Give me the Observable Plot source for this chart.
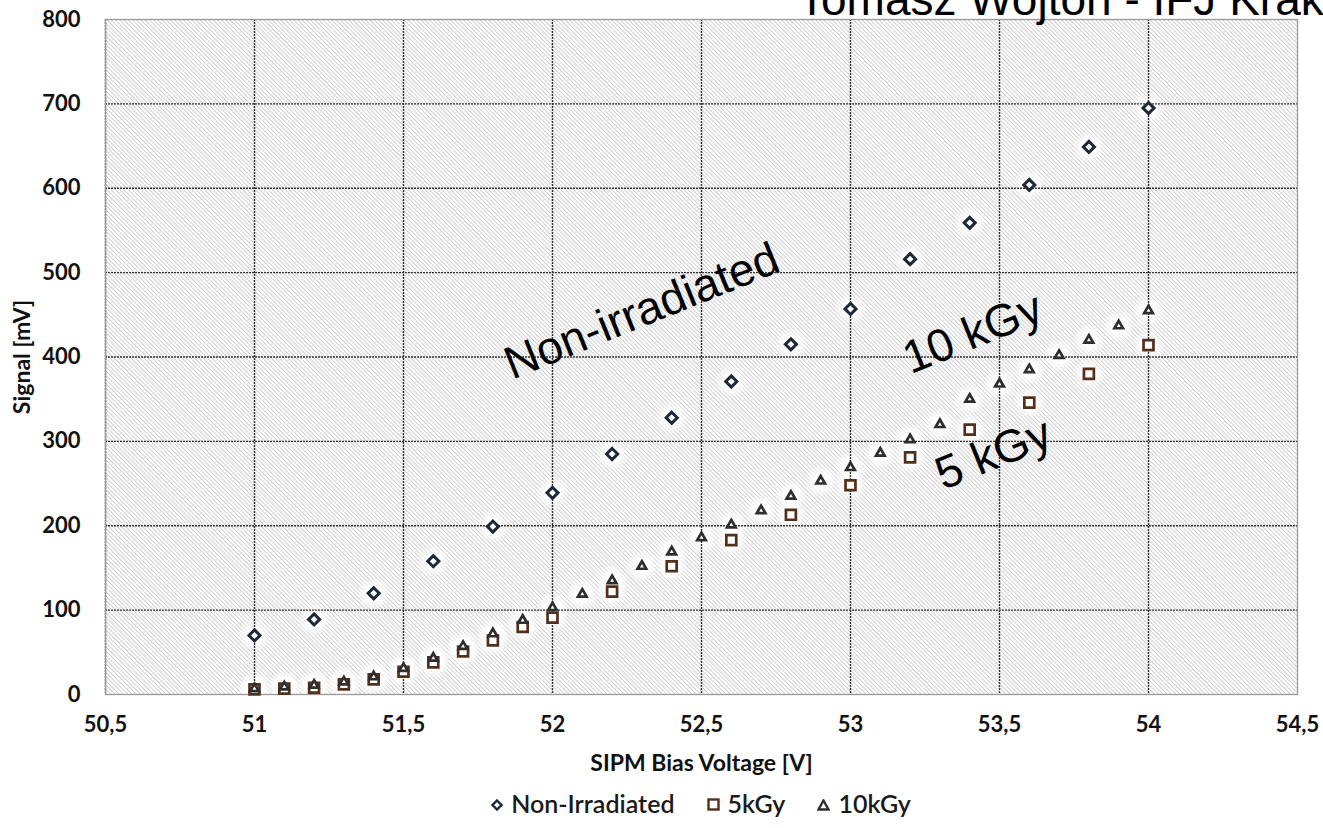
<!DOCTYPE html>
<html>
<head>
<meta charset="utf-8">
<script src="https://cdn.jsdelivr.net/npm/d3@7"></script>
<script src="https://cdn.jsdelivr.net/npm/@observablehq/plot@0.6"></script>
<style>
html, body { margin: 0; padding: 0; background: #fff; overflow: hidden; }
#wrap { position: relative; width: 1323px; height: 828px; overflow: hidden; }
#chart { position: absolute; left: 0; top: 0; }
#title { position: absolute; left: 798px; top: -24px; font-family: "Liberation Sans", Arial, sans-serif; font-size: 46px; line-height: 46px; white-space: nowrap; color: #000; }
#legend { position: absolute; left: 105px; width: 1192px; top: 788px; text-align: center; font-family: Lato, sans-serif; font-size: 25px; font-weight: 600; line-height: 30px; color: #1a1a1a; }
#legend .item { display: inline-block; margin: 0 16px; }
#legend svg { vertical-align: middle; margin-right: 8px; position: relative; top: -2px; }
</style>
</head>
<body>
<div id="wrap">
  <div id="chart"></div>
  <div id="title">Tomasz Wojton - IFJ Kraków</div>
  <div id="legend"></div>
</div>
<script>
// ---- data ----
const seriesNames = ["Non-Irradiated", "5kGy", "10kGy"];

const nonIrrVoltage = [51, 51.2, 51.4, 51.6, 51.8, 52, 52.2, 52.4, 52.6, 52.8, 53, 53.2, 53.4, 53.6, 53.8, 54];
const nonIrrSignal  = [70, 89, 120, 158, 199, 239, 285, 328, 371, 415, 457, 516, 559, 604, 649, 695];

const kGy5Voltage = [51, 51.1, 51.2, 51.3, 51.4, 51.5, 51.6, 51.7, 51.8, 51.9, 52, 52.2, 52.4, 52.6, 52.8, 53, 53.2, 53.4, 53.6, 53.8, 54];
const kGy5Signal  = [6, 7, 8, 12, 18, 27, 38, 51, 64, 80, 91, 122, 152, 183, 213, 248, 281, 314, 346, 380, 414];

const kGy10Voltage = [51, 51.1, 51.2, 51.3, 51.4, 51.5, 51.6, 51.7, 51.8, 51.9,
                      52, 52.1, 52.2, 52.3, 52.4, 52.5, 52.6, 52.7, 52.8, 52.9,
                      53, 53.1, 53.2, 53.3, 53.4, 53.5, 53.6, 53.7, 53.8, 53.9, 54];
const kGy10Signal  = [7, 9, 11, 15, 21, 31, 43, 57, 72, 88,
                      103, 119, 135, 152, 169, 186, 201, 218, 235, 253,
                      269, 286, 302, 320, 350, 368, 385, 402, 420, 437, 455];

const xTicks = [50.5, 51, 51.5, 52, 52.5, 53, 53.5, 54, 54.5];
const yTicks = [0, 100, 200, 300, 400, 500, 600, 700, 800];

const annotationText = ["Non-irradiated", "10 kGy", "5 kGy"];
const annotationX = [52.30, 53.41, 53.48];
const annotationY = [454, 428, 285];

const xLabel = "SIPM Bias Voltage [V]";
const yLabel = "Signal [mV]";

// ---- build tables ----
const toRows = (xs, ys, name) => xs.map((v, i) => ({v, s: ys[i], name}));
const nonIrr = toRows(nonIrrVoltage, nonIrrSignal, seriesNames[0]);
const k5 = toRows(kGy5Voltage, kGy5Signal, seriesNames[1]);
const k10 = toRows(kGy10Voltage, kGy10Signal, seriesNames[2]);
const allPts = [...nonIrr, ...k5, ...k10];
const annotations = annotationText.map((t, i) => ({t, x: annotationX[i], y: annotationY[i]}));

const fmt = d => String(d).replace(".", ",");

const colors = {diamond: "#1c2938", square: "#52301c", triangle: "#2e2e2e"};
const grid = {stroke: "#333", strokeWidth: 1.4, strokeDasharray: "2,1"};

const plot = Plot.plot({
  width: 1323,
  height: 786,
  marginLeft: 105,
  marginRight: 26,
  marginTop: 19,
  marginBottom: 92,
  x: {domain: [50.5, 54.5]},
  y: {domain: [0, 800]},
  style: {fontFamily: "Lato, sans-serif", fontSize: "22px", fontWeight: "bold", color: "#111", background: "transparent"},
  marks: [
    Plot.frame({fill: "url(#hatch)", stroke: null}),
    // soft white halo behind every marker
    Plot.dot(allPts, {x: "v", y: "s", r: 15, fill: "white", fillOpacity: 0.3, stroke: null}),
    Plot.dot(allPts, {x: "v", y: "s", r: 12, fill: "white", fillOpacity: 0.45, stroke: null}),
    Plot.dot(allPts, {x: "v", y: "s", r: 9, fill: "white", fillOpacity: 0.8, stroke: null}),
    Plot.ruleX(xTicks.slice(0, -1), grid),
    Plot.ruleY(yTicks.slice(1, -1), grid),
    Plot.frame({stroke: "#999", strokeWidth: 1.3, fill: "none"}),
    Plot.dot(nonIrr, {x: "v", y: "s", symbol: "diamond2", r: 5, fill: "white", stroke: colors.diamond, strokeWidth: 3}),
    Plot.dot(k5, {x: "v", y: "s", symbol: "square", r: 5.6, fill: "white", stroke: colors.square, strokeWidth: 2.7}),
    Plot.dot(k10, {x: "v", y: "s", symbol: "triangle2", r: 4.1, fill: "white", stroke: colors.triangle, strokeWidth: 2.7}),
    Plot.text(annotations, {x: "x", y: "y", text: "t", rotate: -22, fontSize: 46, fontWeight: "normal", fontFamily: "'Liberation Sans', Arial, sans-serif", fill: "#000"}),
    Plot.axisX({ticks: xTicks, tickFormat: fmt, tickSize: 0, tickPadding: 22, label: null}),
    Plot.axisY({ticks: yTicks, tickFormat: fmt, tickSize: 0, tickPadding: 25, label: null}),
    Plot.text([xLabel], {frameAnchor: "bottom", dy: 69, textAnchor: "middle", lineAnchor: "middle", fontSize: 23, fontWeight: "bold"}),
    Plot.text([yLabel], {frameAnchor: "left", dx: -83, rotate: -90, textAnchor: "middle", lineAnchor: "middle", fontSize: 23, fontWeight: "bold"})
  ]
});

// hatch pattern for the plot background
const svgSel = d3.select(plot);
const defs = svgSel.insert("defs", ":first-child");
const pat = defs.append("pattern")
  .attr("id", "hatch").attr("patternUnits", "userSpaceOnUse")
  .attr("width", 3).attr("height", 3)
  .attr("patternTransform", "rotate(-45)");
pat.append("rect").attr("width", 3).attr("height", 3).attr("fill", "#ffffff");
pat.append("line").attr("x1", 1.5).attr("y1", 0).attr("x2", 1.5).attr("y2", 3)
  .attr("stroke", "#c8c8c8").attr("stroke-width", 0.9);

document.getElementById("chart").appendChild(plot);

// legend
const legendShapes = {
  "Non-Irradiated": `<svg width="12" height="12"><path d="M6 1.5 L10.5 6 L6 10.5 L1.5 6Z" fill="white" stroke="${colors.diamond}" stroke-width="2.4"/></svg>`,
  "5kGy": `<svg width="13" height="13"><rect x="1.5" y="1.5" width="10" height="10" fill="white" stroke="${colors.square}" stroke-width="2.4"/></svg>`,
  "10kGy": `<svg width="13" height="12"><path d="M6.5 1.5 L11.5 10.5 L1.5 10.5Z" fill="white" stroke="${colors.triangle}" stroke-width="2.4"/></svg>`
};
document.getElementById("legend").innerHTML = seriesNames
  .map(n => `<span class="item">${legendShapes[n]}${n}</span>`).join("");
</script>
</body>
</html>
